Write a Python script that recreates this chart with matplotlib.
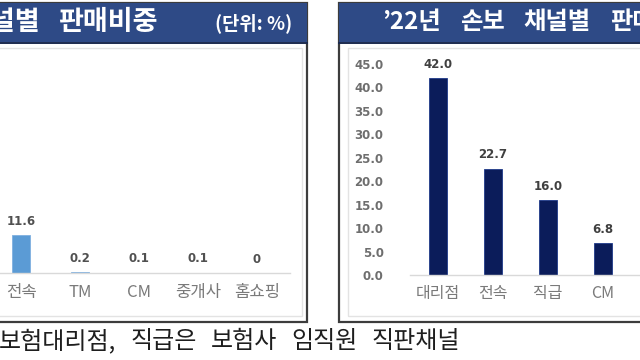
import matplotlib
matplotlib.use("Agg")
import matplotlib.pyplot as plt
from matplotlib.patches import Rectangle
from matplotlib.lines import Line2D

plt.rcParams['font.family'] = ['Noto Sans CJK KR', 'DejaVu Sans']

# ---- data ----
left_categories = ['전속', 'TM', 'CM', '중개사', '홈쇼핑']
left_values = [11.6, 0.2, 0.1, 0.1, 0]
right_categories = ['대리점', '전속', '직급', 'CM']
right_values = [42.0, 22.7, 16.0, 6.8]
right_yticks = [0, 5, 10, 15, 20, 25, 30, 35, 40, 45]

left_title = '채널별 판매비중'
unit_text = '(단위: %)'
right_title = '’22년 손보 채널별 판매비중'
footnote = '보험대리점, 직급은 보험사 임직원 직판채널'

W, H = 640, 360
fig = plt.figure(figsize=(6.4, 3.6), dpi=100)
fig.patch.set_facecolor('white')
renderer = fig.canvas.get_renderer()

def fx(px):
    return px / W

def fy(py):
    return 1 - py / H

def rect(x0, y0, x1, y1, **kw):
    fig.patches.append(Rectangle((fx(x0), fy(y1)), (x1 - x0) / W, (y1 - y0) / H,
                                 transform=fig.transFigure, **kw))

def hline(x0, x1, y, **kw):
    fig.lines.append(Line2D([fx(x0), fx(x1)], [fy(y), fy(y)], transform=fig.transFigure, **kw))

def spaced_text(x_px, y_px, text, gap_px, align='left', **kw):
    """Draw text word by word with a wider word gap (as in the reference)."""
    words = text.split(' ')
    objs, widths = [], []
    for w in words:
        t = fig.text(0, fy(y_px), w, ha='left', va='center', **kw)
        widths.append(t.get_window_extent(renderer=renderer).width)
        objs.append(t)
    total = sum(widths) + gap_px * (len(words) - 1)
    x = x_px if align == 'left' else x_px - total
    for t, wd in zip(objs, widths):
        t.set_x(fx(x))
        x += wd + gap_px

NAVY_HDR = '#2E4A86'
BORDER = '#3C3C3C'

# panels
for (x0, x1) in [(-20, 307), (339, 660)]:
    rect(x0, 3, x1, 322, facecolor='white', edgecolor=BORDER, linewidth=1.6, zorder=0)
    rect(x0, 3, x1, 42, facecolor=NAVY_HDR, edgecolor='none', zorder=1)
    hline(x0, x1, 42.5, color='#1B2A4E', linewidth=1.4, zorder=2)

# inner light boxes
rect(-20, 48, 302, 316, facecolor='none', edgecolor='#E3E3E3', linewidth=1.0, zorder=1)
rect(348, 48, 660, 316, facecolor='none', edgecolor='#E3E3E3', linewidth=1.0, zorder=1)

# header texts
spaced_text(158, 22, left_title, 19, align='right', color='white',
            fontsize=19.5, fontweight='bold', zorder=3)
fig.text(fx(215), fy(23), unit_text, ha='left', va='center', color='white',
         fontsize=13.5, fontweight='bold', zorder=3)
spaced_text(382, 22, right_title, 19, align='left', color='white',
            fontsize=17.5, fontweight='bold', zorder=3)

# footnote
spaced_text(-1, 341, footnote, 14, align='left', color='#1E1E1E',
            fontsize=17.3, zorder=3)

NUMFONT = 'DejaVu Sans'

# ---- left axes ----
axL = fig.add_axes([fx(0), fy(273), (290 - 0) / W, (273 - 64) / H], zorder=5)
axL.patch.set_alpha(0)
xl = list(range(len(left_categories)))
axL.bar(xl, left_values, width=0.30, color='#5B9BD5', edgecolor='#7FB0E0', linewidth=0.6)
axL.set_xlim(-0.356, 4.56)
axL.set_ylim(0, 63.7)
for s in ['top', 'left', 'right']:
    axL.spines[s].set_visible(False)
axL.spines['bottom'].set_color('#D9D9D9')
axL.spines['bottom'].set_linewidth(1.0)
axL.set_yticks([])
axL.set_xticks(xl)
axL.set_xticklabels(left_categories, fontsize=12, color='#7A7A7A')
axL.tick_params(axis='x', length=0, pad=8)
for x, v in zip(xl, left_values):
    axL.annotate(f'{v:g}', (x, v), xytext=(0, 10), textcoords='offset points',
                 ha='center', va='center', fontsize=8.5, fontweight='bold',
                 color='#505050', family=NUMFONT)

# ---- right axes ----
axR = fig.add_axes([fx(410), fy(275), (640 - 410) / W, (275 - 64) / H], zorder=5)
axR.patch.set_alpha(0)
xr = list(range(len(right_categories)))
axR.bar(xr, right_values, width=0.33, color='#0B1C5A', edgecolor='#1F3A8A', linewidth=0.6)
axR.set_xlim(-0.51, 3.67)
axR.set_ylim(0, 45)
for s in ['top', 'left', 'right']:
    axR.spines[s].set_visible(False)
axR.spines['bottom'].set_color('#D9D9D9')
axR.spines['bottom'].set_linewidth(1.0)
axR.set_yticks(right_yticks)
axR.set_yticklabels([f'{t:.1f}' for t in right_yticks], fontsize=8.5, color='#6E6E6E',
                    fontweight='bold', family=NUMFONT)
axR.tick_params(axis='y', length=0, pad=19)
axR.set_xticks(xr)
axR.set_xticklabels(right_categories, fontsize=11.5, color='#7A7A7A')
axR.tick_params(axis='x', length=0, pad=7)
for x, v in zip(xr, right_values):
    axR.annotate(f'{v:.1f}', (x, v), xytext=(0, 10), textcoords='offset points',
                 ha='center', va='center', fontsize=8.5, fontweight='bold',
                 color='#404040', family=NUMFONT)

fig.savefig('out.png', dpi=100, facecolor='white')
